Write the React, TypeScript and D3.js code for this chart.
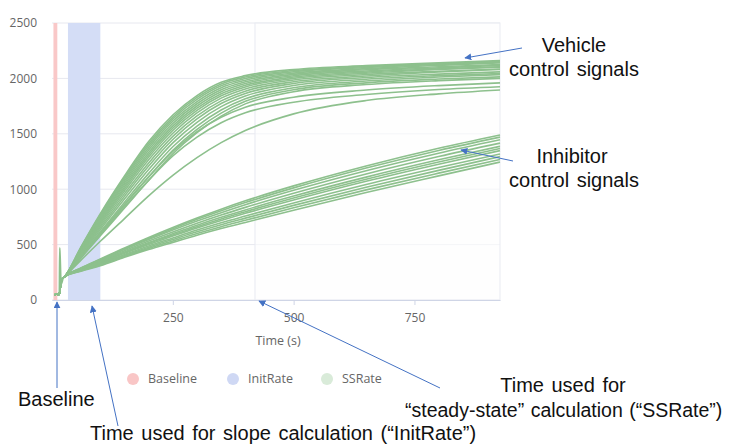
import * as React from 'react'
import * as d3 from 'd3'

// sample times (s) shared by every control signal after the baseline step
const sampleTimes = [26, 60, 100, 150, 200, 250, 300, 350, 400, 500, 650, 800, 927]
// the short baseline part at the very start, same for all wells
const earlyTimes = [5, 9, 13, 16, 19]
const earlyValues = [40, 55, 45, 70, 180]
// the injection spike seen in one trace
const spikeTimes = [12, 15, 16, 17, 19, 23]
const spikeValues = [50, 60, 470, 380, 140, 200]

const vehicleSignals = [
	[210, 480, 780, 1120, 1430, 1670, 1845, 1965, 2025, 2080, 2115, 2140, 2160],
	[210, 475, 770, 1105, 1412, 1652, 1828, 1950, 2012, 2070, 2106, 2132, 2152],
	[210, 470, 760, 1091, 1395, 1635, 1811, 1934, 1999, 2060, 2098, 2126, 2146],
	[210, 464, 748, 1074, 1374, 1614, 1791, 1916, 1984, 2048, 2088, 2118, 2140],
	[210, 458, 736, 1056, 1353, 1593, 1771, 1898, 1969, 2036, 2078, 2105, 2125],
	[210, 452, 724, 1039, 1332, 1572, 1751, 1880, 1954, 2024, 2067, 2095, 2118],
	[210, 446, 712, 1021, 1311, 1551, 1731, 1861, 1938, 2012, 2057, 2086, 2106],
	[210, 440, 700, 1004, 1290, 1530, 1711, 1843, 1923, 2000, 2047, 2080, 2102],
	[210, 433, 686, 984, 1265, 1505, 1688, 1822, 1905, 1986, 2035, 2065, 2085],
	[210, 425, 670, 960, 1237, 1477, 1661, 1797, 1885, 1970, 2021, 2058, 2080],
	[210, 417, 654, 937, 1209, 1449, 1634, 1773, 1864, 1954, 2008, 2039, 2059],
	[210, 408, 636, 911, 1178, 1418, 1604, 1745, 1841, 1936, 1993, 2025, 2045],
	[210, 398, 616, 882, 1143, 1383, 1570, 1715, 1816, 1916, 1976, 2012, 2034],
	[210, 389, 598, 856, 1111, 1351, 1540, 1687, 1793, 1898, 1960, 1994, 2014],
	[210, 380, 580, 830, 1080, 1320, 1510, 1660, 1770, 1880, 1945, 1980, 2000],
	[210, 392, 605, 865, 1110, 1340, 1520, 1650, 1740, 1830, 1895, 1935, 1960],
	[210, 385, 590, 840, 1080, 1300, 1470, 1600, 1690, 1785, 1855, 1900, 1925],
	[210, 360, 530, 735, 940, 1125, 1285, 1420, 1530, 1680, 1800, 1860, 1895],
]

const inhibitorSignals = [
	[210, 290, 370, 470, 565, 655, 740, 820, 895, 1030, 1210, 1370, 1490],
	[210, 288, 365, 463, 556, 644, 728, 806, 879, 1012, 1191, 1350, 1470],
	[210, 285, 359, 455, 545, 631, 712, 788, 860, 990, 1167, 1325, 1446],
	[210, 281, 352, 444, 532, 614, 693, 767, 836, 964, 1138, 1295, 1416],
	[210, 277, 345, 434, 519, 598, 675, 746, 813, 938, 1109, 1265, 1387],
	[210, 275, 340, 427, 510, 587, 662, 732, 797, 920, 1090, 1245, 1367],
	[210, 273, 335, 421, 501, 577, 650, 718, 782, 902, 1071, 1225, 1348],
	[210, 269, 328, 410, 488, 560, 631, 697, 758, 876, 1042, 1195, 1318],
	[210, 266, 322, 402, 477, 547, 616, 680, 739, 854, 1018, 1170, 1294],
	[210, 263, 316, 393, 466, 533, 600, 662, 719, 832, 994, 1145, 1269],
	[210, 260, 310, 385, 455, 520, 585, 645, 700, 810, 970, 1120, 1245],
]

// analysis windows
const bandNames = ['Baseline', 'InitRate', 'SSRate']
const bandStarts = [3, 33, 420]
const bandEnds = [11, 100, 927]

const yTicks = [0, 500, 1000, 1500, 2000, 2500]
const xTicks = [250, 500, 750]

const bandFill: Record<string, string> = { Baseline: '#f9c8c8', InitRate: '#d4ddf6', SSRate: '#fdfefd' }
const legendFill: Record<string, string> = { Baseline: '#f9c6c6', InitRate: '#cfd8f4', SSRate: '#d9ebd9' }

const dims = { width: 730, height: 445, left: 52, right: 500, top: 23, bottom: 300 }
const blue = '#4472c4'
const green = '#8dc08d'
const chartFont = '"Open Sans", "Noto Sans", sans-serif'
const noteFont = '"Liberation Sans", Arial, sans-serif'

function buildTrace(values: number[]): [number, number][] {
	const pts: [number, number][] = earlyTimes.map((t, i) => [t, earlyValues[i]])
	sampleTimes.forEach((t, i) => pts.push([t, values[i]]))
	return pts
}

function drawChart(svg: d3.Selection<SVGSVGElement, unknown, null, undefined>) {
	svg.selectAll('*').remove()

	const x = d3.scaleLinear().domain([0, 927]).range([dims.left, dims.right])
	const y = d3.scaleLinear().domain([0, 2500]).range([dims.bottom, dims.top])

	const defs = svg.append('defs')
	defs.append('marker')
		.attr('id', 'arrow')
		.attr('viewBox', '0 0 10 10')
		.attr('refX', 9)
		.attr('refY', 5)
		.attr('markerWidth', 7)
		.attr('markerHeight', 7)
		.attr('markerUnits', 'userSpaceOnUse')
		.attr('orient', 'auto')
		.append('path')
		.attr('d', 'M0,0 L10,5 L0,10 z')
		.attr('fill', blue)

	// grid
	svg.append('g')
		.selectAll('line')
		.data(yTicks)
		.enter()
		.append('line')
		.attr('x1', dims.left)
		.attr('x2', dims.right)
		.attr('y1', d => y(d))
		.attr('y2', d => y(d))
		.attr('stroke', '#e7e8ef')

	// analysis windows
	svg.append('g')
		.selectAll('rect')
		.data(bandNames)
		.enter()
		.append('rect')
		.attr('x', (_, i) => x(bandStarts[i]))
		.attr('width', (_, i) => x(bandEnds[i]) - x(bandStarts[i]))
		.attr('y', dims.top)
		.attr('height', dims.bottom - dims.top)
		.attr('fill', d => bandFill[d])
		.attr('fill-opacity', d => (d === 'SSRate' ? 0.6 : 1))
		.attr('stroke', d => (d === 'SSRate' ? '#e9ebf2' : 'none'))

	// traces
	const line = d3.line<[number, number]>()
		.x(d => x(d[0]))
		.y(d => y(d[1]))
		.curve(d3.curveMonotoneX)

	const traces = [...inhibitorSignals, ...vehicleSignals].map(buildTrace)
	svg.append('g')
		.selectAll('path')
		.data(traces)
		.enter()
		.append('path')
		.attr('d', d => line(d))
		.attr('fill', 'none')
		.attr('stroke', green)
		.attr('stroke-width', 1.6)

	svg.append('path')
		.attr('d', line(spikeTimes.map((t, i) => [t, spikeValues[i]] as [number, number])))
		.attr('fill', 'none')
		.attr('stroke', green)
		.attr('stroke-width', 1.6)

	// axes
	const gx = svg.append('g')
		.attr('transform', `translate(0, ${dims.bottom})`)
		.call(d3.axisBottom(x).tickValues(xTicks).tickSize(5).tickSizeOuter(0).tickPadding(8))
	gx.select('.domain').attr('stroke', '#cfd5e6')
	gx.selectAll('.tick line').attr('stroke', '#cfd5e6')
	gx.selectAll('text').attr('fill', '#666').style('font-family', chartFont).style('font-size', '12px')

	const gy = svg.append('g')
		.attr('transform', `translate(${dims.left}, 0)`)
		.call(d3.axisLeft(y).tickValues(yTicks).tickFormat(d3.format('d')).tickSize(0).tickPadding(15))
	gy.select('.domain').remove()
	gy.selectAll('text').attr('fill', '#666').style('font-family', chartFont).style('font-size', '12px')

	svg.append('text')
		.attr('x', 278)
		.attr('y', 345)
		.attr('text-anchor', 'middle')
		.attr('fill', '#666')
		.style('font-family', chartFont)
		.style('font-size', '12.5px')
		.text('Time (s)')

	// legend
	const legendX = [133, 233, 327]
	const legend = svg.append('g')
		.selectAll('g')
		.data(bandNames)
		.enter()
		.append('g')
		.attr('transform', (_, i) => `translate(${legendX[i]}, 379)`)
	legend.append('circle').attr('r', 6).attr('fill', d => legendFill[d])
	legend.append('text')
		.attr('x', 15)
		.attr('dy', '0.35em')
		.attr('fill', '#666')
		.style('font-family', chartFont)
		.style('font-size', '12.5px')
		.text(d => d)

	// annotations
	const arrows = [
		[522, 48, 465, 58],
		[513, 161, 461, 150],
		[57, 388, 57, 302],
		[118, 426, 92, 306],
		[440, 388, 259, 301],
	]
	svg.append('g')
		.selectAll('line')
		.data(arrows)
		.enter()
		.append('line')
		.attr('x1', d => d[0])
		.attr('y1', d => d[1])
		.attr('x2', d => d[2])
		.attr('y2', d => d[3])
		.attr('stroke', blue)
		.attr('stroke-width', 1)
		.attr('marker-end', 'url(#arrow)')

	const notes: [string, number, number, string, number][] = [
		['Vehicle', 574, 52, 'middle', 20],
		['control signals', 574, 76, 'middle', 20],
		['Inhibitor', 572, 163, 'middle', 20],
		['control signals', 574, 187, 'middle', 20],
		['Baseline', 18, 406, 'start', 20],
		['Time used for', 563, 392, 'middle', 20],
		['\u201csteady-state\u201d calculation (\u201cSSRate\u201d)', 405, 417, 'start', 19.5],
		['Time used for slope calculation (\u201cInitRate\u201d)', 90, 440, 'start', 20],
	]
	svg.append('g')
		.selectAll('text')
		.data(notes)
		.enter()
		.append('text')
		.attr('x', d => d[1])
		.attr('y', d => d[2])
		.attr('text-anchor', d => d[3])
		.attr('fill', '#111')
		.style('font-family', noteFont)
		.style('font-size', d => `${d[4]}px`)
		.style('word-spacing', d => (d[4] < 20 ? '1px' : '2px'))
		.text(d => d[0])
}

const App: React.FC = () => {
	const svgRef = React.useRef<SVGSVGElement>(null)

	React.useEffect(() => {
		if (svgRef.current) drawChart(d3.select(svgRef.current))
	}, [])

	return (
		<svg
			ref={svgRef}
			width={dims.width}
			height={dims.height}
			style={{ position: 'absolute', left: 0, top: 0, background: '#fff' }}
		/>
	)
}

export default App
